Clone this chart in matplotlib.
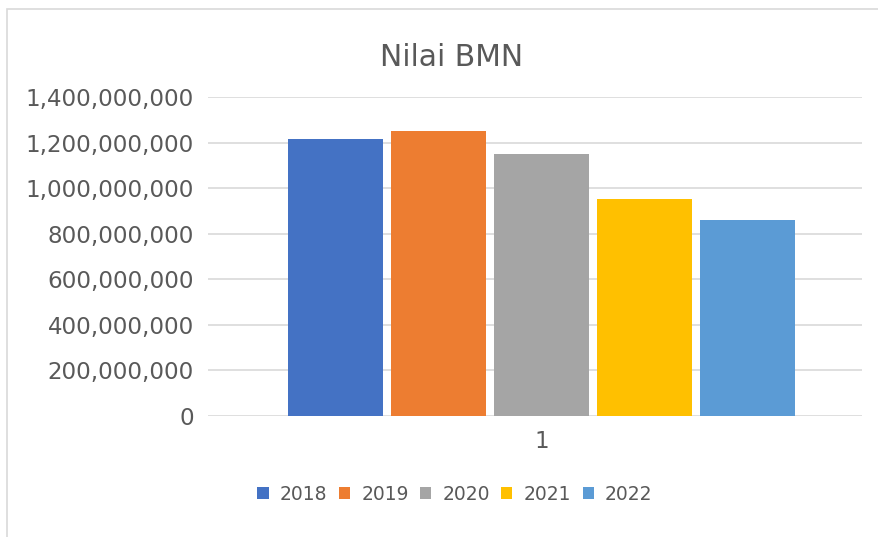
import matplotlib.pyplot as plt
from matplotlib.patches import Rectangle
from matplotlib.ticker import FuncFormatter

# data
years = ["2018", "2019", "2020", "2021", "2022"]
values = [1216000000, 1252000000, 1151000000, 952000000, 861000000]
colors = ["#4472C4", "#ED7D31", "#A5A5A5", "#FFC000", "#5B9BD5"]
category = "1"

text_color = "#595959"
grid_color = "#D9D9D9"

fig = plt.figure(figsize=(8.79, 5.37), dpi=100)
ax = fig.add_axes([208 / 879, 121 / 537, 654 / 879, 319 / 537])

# frame round the chart
fig.patches.append(Rectangle((7 / 879, -0.01), 1.0, 1 - 9 / 537 + 0.01,
                             transform=fig.transFigure, fill=False,
                             edgecolor=grid_color, linewidth=1.2))

step = 0.1575
for i in range(len(years)):
    ax.bar((i - 2) * step + 0.01, values[i], width=step - 0.012,
           color=colors[i], label=years[i], zorder=3)

ax.set_xlim(-0.5, 0.5)
ax.set_ylim(0, 1400000000)
ax.set_yticks(range(0, 1400000001, 200000000))
ax.yaxis.set_major_formatter(FuncFormatter(lambda v, p: f"{int(v):,}"))
ax.set_xticks([0.01])
ax.set_xticklabels([category])
ax.grid(axis="y", color=grid_color, linewidth=1.2, zorder=0)
for s in ax.spines.values():
    s.set_visible(False)
ax.tick_params(axis="both", length=0, colors=text_color, labelsize=16.6)
ax.tick_params(axis="y", pad=10)
ax.tick_params(axis="x", pad=10)

fig.text(452 / 879, 1 - 57 / 537, "Nilai BMN", ha="center", va="center",
         fontsize=21.5, color=text_color)

leg = fig.legend(loc="center", bbox_to_anchor=(455 / 879, 1 - 494 / 537),
                 ncol=5, frameon=False, fontsize=13.5, handlelength=0.6,
                 handleheight=0.6, handletextpad=0.6, columnspacing=0.6)
for t in leg.get_texts():
    t.set_color(text_color)

fig.savefig("out.png", dpi=100)
